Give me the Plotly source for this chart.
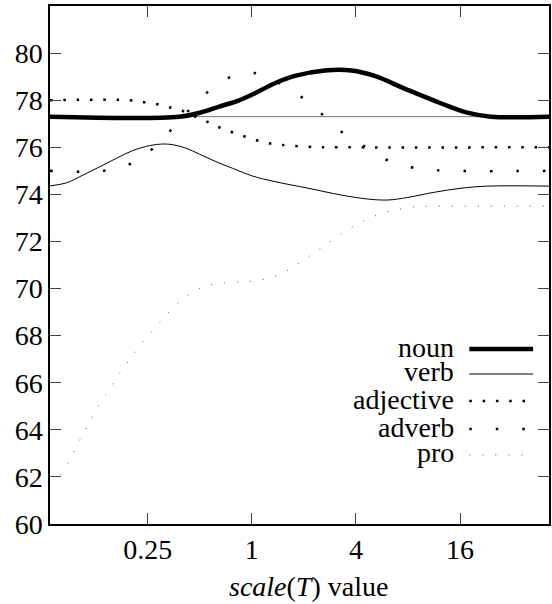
import math
import plotly.graph_objects as go

# values
noun_x = [0.068, 0.381, 0.52, 0.647, 0.82, 1.0, 1.36, 1.774, 2.643, 3.78, 5.13, 7.94, 12.48, 17.6, 24.2, 52.3]
noun_y = [77.3, 77.3, 77.5, 77.73, 77.96, 78.23, 78.72, 79.03, 79.26, 79.26, 79.03, 78.44, 77.86, 77.47, 77.3, 77.3]

verb_x = [0.068, 0.0848, 0.1056, 0.1318, 0.1645, 0.2047, 0.2557, 0.3055, 0.3486, 0.4166, 0.4965,
          0.6198, 0.772, 1.007, 1.361, 2.117, 3.297, 4.69, 6.12, 7.98, 11.37, 16.2, 23.06, 52.3]
verb_y = [74.36, 74.49, 74.82, 75.17, 75.53, 75.86, 76.07, 76.14, 76.11, 75.96, 75.71,
          75.39, 75.11, 74.78, 74.54, 74.26, 73.97, 73.80, 73.76, 73.87, 74.09, 74.26, 74.35, 74.35]

adj_x = [0.068, 0.196, 0.2396, 0.283, 0.337, 0.395, 0.471, 0.55, 0.641, 0.762, 0.899, 1.062, 1.257, 1.5, 2.136, 3.18, 52.3]
adj_y = [78.0, 78.0, 77.91, 77.83, 77.69, 77.55, 77.30, 77.09, 76.86, 76.65, 76.47, 76.30, 76.17, 76.10, 76.02, 76.0, 76.0]

adv_x = [0.068, 0.139, 0.198, 0.264, 0.338, 0.429, 0.55, 0.739, 1.04, 1.416, 1.93, 2.53, 3.30, 4.43, 5.99, 8.35, 11.83, 52.3]
adv_y = [75.0, 75.0, 75.29, 75.91, 76.71, 77.55, 78.32, 78.96, 79.15, 78.75, 78.14, 77.42, 76.66, 76.06, 75.47, 75.15, 75.02, 75.0]

pro_x = [0.0786, 0.0866, 0.0934, 0.1011, 0.1104, 0.1206, 0.1305, 0.1441, 0.1587, 0.1743, 0.1937, 0.2146,
         0.2396, 0.2698, 0.3014, 0.3411, 0.389, 0.4448, 0.5186, 0.6198, 0.7392, 0.8821, 1.053, 1.245,
         1.46, 1.712, 1.981, 2.292, 2.643, 3.057, 3.538, 4.133, 4.864, 5.68, 6.778, 8.05, 9.57, 11.42, 52.3]
pro_y = [62.10, 62.58, 63.05, 63.57, 64.07, 64.57, 65.06, 65.53, 66.03, 66.48, 66.92, 67.37,
         67.83, 68.26, 68.68, 69.11, 69.50, 69.81, 70.07, 70.21, 70.26, 70.28, 70.32, 70.43,
         70.61, 70.88, 71.19, 71.52, 71.83, 72.15, 72.48, 72.77, 73.00, 73.22, 73.33, 73.45, 73.49, 73.50, 73.50]

base_x = [0.068, 52.3]
base_y = [77.3, 77.3]

x_ticks = [0.25, 1, 4, 16]
x_tick_labels = ["0.25", "1", "4", "16"]
y_ticks = list(range(60, 82, 2))

series = [
    ("noun", noun_x, noun_y, dict(color="black", width=4.5), "spline"),
    ("verb", verb_x, verb_y, dict(color="black", width=1), "spline"),
    ("adjective", adj_x, adj_y, dict(color="black", width=2.5, dash="2.5px,10.8px"), "spline"),
    ("adverb", adv_x, adv_y, dict(color="black", width=2.5, dash="2.5px,24px"), "spline"),
    ("pro", pro_x, pro_y, dict(color="#555555", width=1, dash="1px,12px"), "linear"),
]

FONT = "Liberation Serif, Times New Roman, serif"

fig = go.Figure()
fig.add_trace(go.Scatter(x=base_x, y=base_y, mode="lines",
                         line=dict(color="#777777", width=1), showlegend=False))
for name, xs, ys, line, shape in series:
    fig.add_trace(go.Scatter(x=xs, y=ys, mode="lines", name=name,
                             line=dict(shape=shape, **line), showlegend=False))

# hand-made legend: text right-aligned, sample to the right
L, R, T, B = 50, 1, 6, 80
W, H = 552 - L - R, 604 - T - B
def px(x): return (x - L) / W
def py(y): return (604 - B - y) / H

legend_rows = [349, 374, 401, 429, 455]
for (name, _, _, line, _), yy in zip(series, legend_rows):
    fig.add_annotation(x=px(458), y=py(yy - 2), xref="paper", yref="paper", text=name,
                       showarrow=False, xanchor="right", yanchor="middle",
                       font=dict(family=FONT, size=28, color="black"))
    fig.add_shape(type="line", xref="paper", yref="paper", x0=px(471), x1=px(535),
                  y0=py(yy), y1=py(yy), line=line)

# axis title, placed like the reference (slightly right of centre)
fig.add_annotation(x=px(310), y=py(586), xref="paper", yref="paper",
                   text="<i>scale</i>(<i>T</i>) value", showarrow=False,
                   xanchor="center", yanchor="middle",
                   font=dict(family=FONT, size=28, color="black"))

axis_common = dict(showline=True, linecolor="black", linewidth=1.5, mirror="ticks",
                   ticks="inside", ticklen=11, tickcolor="#444444", tickwidth=1.2,
                   showgrid=False, zeroline=False,
                   tickfont=dict(family=FONT, size=28, color="black"))

fig.update_xaxes(type="log", range=[math.log10(0.068), math.log10(52.3)],
                 tickvals=x_ticks, ticktext=x_tick_labels, **axis_common)
fig.update_yaxes(range=[60, 82], tickvals=y_ticks, **axis_common)

fig.update_layout(width=552, height=604, margin=dict(l=L, r=R, t=T, b=B),
                  plot_bgcolor="white", paper_bgcolor="white",
                  font=dict(family=FONT, size=28, color="black"))

fig.write_html("out.html", config={"displayModeBar": False},
               post_script="document.body.style.margin='0';")
